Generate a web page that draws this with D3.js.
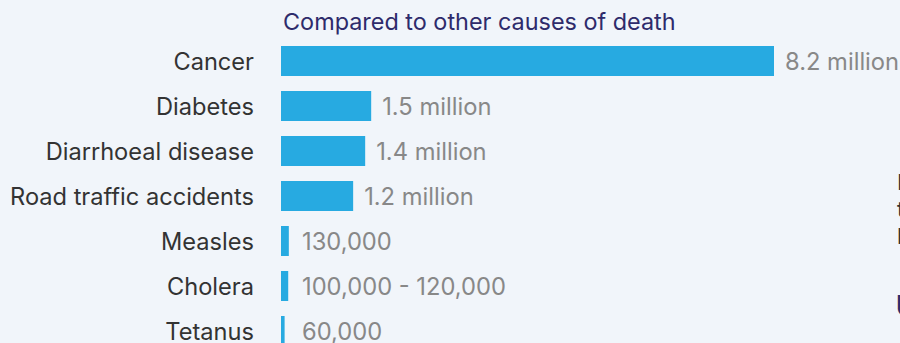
<!DOCTYPE html>
<html>
<head>
<meta charset="utf-8">
<script src="https://cdn.jsdelivr.net/npm/d3@7"></script>
<style>
  html, body { margin: 0; padding: 0; background: #f1f5fa; overflow: hidden; }
  svg { display: block; }
  text { font-family: Inter, "Open Sans", sans-serif; }
</style>
</head>
<body>
<svg id="chart" width="900" height="343"></svg>
<script>
const title = "Compared to other causes of death";
const categories = ["Cancer", "Diabetes", "Diarrhoeal disease", "Road traffic accidents", "Measles", "Cholera", "Tetanus"];
const deaths = [8200000, 1500000, 1400000, 1200000, 130000, 120000, 60000];
const valueLabels = ["8.2 million", "1.5 million", "1.4 million", "1.2 million", "130,000", "100,000 - 120,000", "60,000"];
const sideLines = ["In", "th", "be"];
const sideHeading = "U";

const W = 900, H = 343;
const svg = d3.select("#chart");
svg.append("rect").attr("width", W).attr("height", H).attr("fill", "#f1f5fa");

const x = d3.scaleLinear().domain([0, d3.max(deaths)]).range([281, 774]);
const y = d3.scaleBand().domain(categories).range([46, 346]).paddingInner(1/3).paddingOuter(0);

// helper to fit font size so a reference string has a target width
function fitSize(str, target, weight) {
  const t = svg.append("text").attr("font-size", 20).attr("font-weight", weight || 400).text(str);
  const w = t.node().getComputedTextLength();
  t.remove();
  return 20 * target / w;
}
const titleSize = fitSize(title, 393);
const catSize = fitSize("Road traffic accidents", 244);
const valSize = fitSize("100,000 - 120,000", 204);

svg.append("text")
  .attr("x", 283).attr("y", 30)
  .attr("font-size", titleSize)
  .attr("fill", "#2e2b6b")
  .text(title);

const rows = categories.map((c, i) => ({ c, v: deaths[i], label: valueLabels[i] }));

svg.selectAll("rect.bar").data(rows).join("rect")
  .attr("class", "bar")
  .attr("x", x(0))
  .attr("y", d => y(d.c))
  .attr("width", d => x(d.v) - x(0))
  .attr("height", y.bandwidth())
  .attr("fill", "#27aae1");

svg.selectAll("text.cat").data(rows).join("text")
  .attr("class", "cat")
  .attr("x", 254)
  .attr("y", d => y(d.c) + y.bandwidth() / 2)
  .attr("dy", "0.36em")
  .attr("text-anchor", "end")
  .attr("font-size", catSize)
  .attr("fill", "#333333")
  .text(d => d.c);

svg.selectAll("text.val").data(rows).join("text")
  .attr("class", "val")
  .attr("x", d => Math.max(x(d.v), x(0) + 10) + 11)
  .attr("y", d => y(d.c) + y.bandwidth() / 2)
  .attr("dy", "0.36em")
  .attr("font-size", valSize)
  .attr("fill", "#888888")
  .text(d => d.label);

// clipped text of the neighbouring column at the right edge
svg.selectAll("text.side").data(sideLines).join("text")
  .attr("class", "side")
  .attr("x", 897)
  .attr("y", (d, i) => 190 + i * 27)
  .attr("font-size", 22)
  .attr("fill", "#333333")
  .text(d => d);

svg.append("text")
  .attr("x", 896).attr("y", 316)
  .attr("font-size", 28)
  .attr("font-weight", 700)
  .attr("fill", "#2e2b6b")
  .text(sideHeading);
</script>
</body>
</html>
